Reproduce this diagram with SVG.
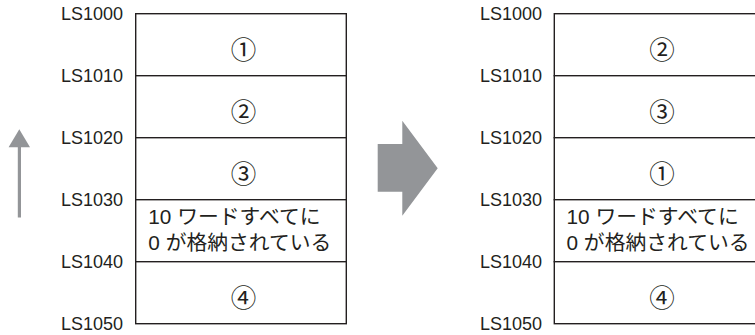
<svg xmlns="http://www.w3.org/2000/svg" width="755" height="335" viewBox="0 0 755 335">
<style>
.cell{fill:#fff;stroke:#231f20;stroke-width:1.4}
.lbl{font-family:"Liberation Sans","Noto Sans CJK JP",sans-serif;font-size:18px;fill:#231f20;text-anchor:end}
.num{font-family:"Noto Sans CJK JP",sans-serif;font-size:25.5px;fill:#231f20;text-anchor:middle;dominant-baseline:central}
.txt{font-family:"Liberation Sans","Noto Sans CJK JP",sans-serif;font-size:20.8px;fill:#231f20}
.arr{fill:#939598}
</style>
<g id="left-table">
  <g id="L1"><rect class="cell" x="135.7" y="13.7" width="210.6" height="62"/><text class="num" x="243.5" y="47">①</text></g>
  <g id="L2"><rect class="cell" x="135.7" y="75.7" width="210.6" height="62"/><text class="num" x="243.5" y="109">②</text></g>
  <g id="L3"><rect class="cell" x="135.7" y="137.7" width="210.6" height="62"/><text class="num" x="243.5" y="171">③</text></g>
  <g id="L4"><rect class="cell" x="135.7" y="199.7" width="210.6" height="62"/><text class="txt" x="148.3" y="224.3">10 ワードすべてに</text><text class="txt" x="148.3" y="250">0 が格納されている</text></g>
  <g id="L5"><rect class="cell" x="135.7" y="261.7" width="210.6" height="62"/><text class="num" x="243.5" y="295">④</text></g>
  <g id="L-labels">
    <text class="lbl" x="123" y="20">LS1000</text>
    <text class="lbl" x="123" y="82">LS1010</text>
    <text class="lbl" x="123" y="144">LS1020</text>
    <text class="lbl" x="123" y="206">LS1030</text>
    <text class="lbl" x="123" y="268">LS1040</text>
    <text class="lbl" x="123" y="330">LS1050</text>
  </g>
</g>
<g id="right-table">
  <g id="R1"><rect class="cell" x="554.3" y="13.7" width="210.6" height="62"/><text class="num" x="662" y="47">②</text></g>
  <g id="R2"><rect class="cell" x="554.3" y="75.7" width="210.6" height="62"/><text class="num" x="662" y="109">③</text></g>
  <g id="R3"><rect class="cell" x="554.3" y="137.7" width="210.6" height="62"/><text class="num" x="662" y="171">①</text></g>
  <g id="R4"><rect class="cell" x="554.3" y="199.7" width="210.6" height="62"/><text class="txt" x="566.5" y="224.3">10 ワードすべてに</text><text class="txt" x="566.5" y="250">0 が格納されている</text></g>
  <g id="R5"><rect class="cell" x="554.3" y="261.7" width="210.6" height="62"/><text class="num" x="662" y="295">④</text></g>
  <g id="R-labels">
    <text class="lbl" x="542" y="20">LS1000</text>
    <text class="lbl" x="542" y="82">LS1010</text>
    <text class="lbl" x="542" y="144">LS1020</text>
    <text class="lbl" x="542" y="206">LS1030</text>
    <text class="lbl" x="542" y="268">LS1040</text>
    <text class="lbl" x="542" y="330">LS1050</text>
  </g>
</g>
<g id="connectors">
  <rect class="arr" x="17.8" y="146" width="3.2" height="71.5"/>
  <polygon class="arr" points="19.3,129.3 30,147.3 8.6,147.3"/>
  <polygon class="arr" points="377.7,144 402.3,144 402.3,120.7 437.7,168.3 402.3,215.7 402.3,191.7 377.7,191.7"/>
</g>
</svg>
